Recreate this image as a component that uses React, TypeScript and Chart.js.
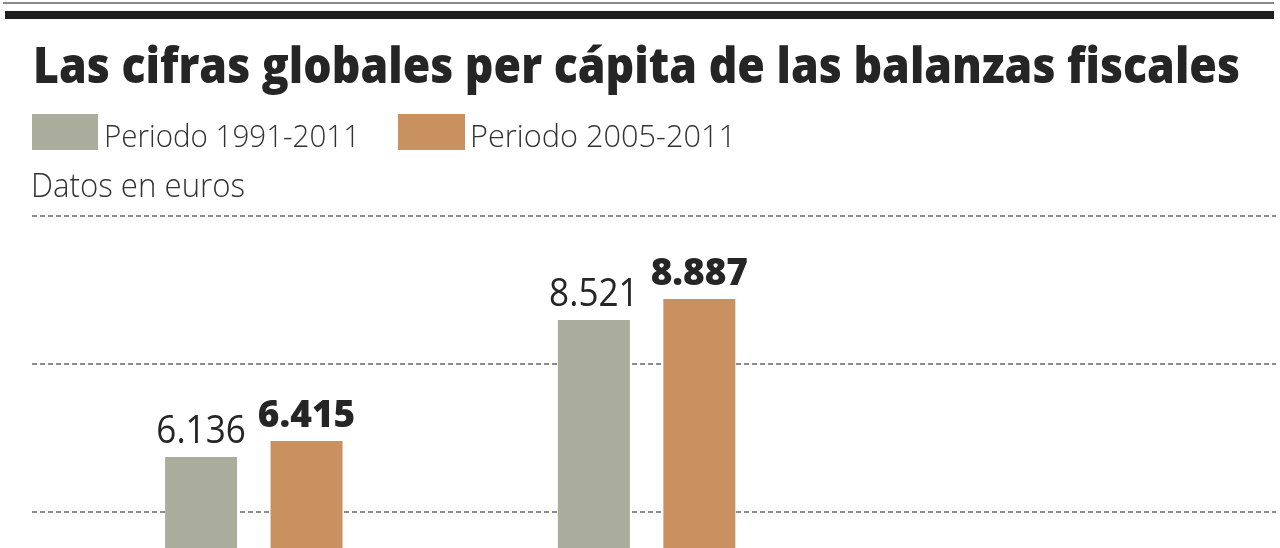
import React, { useEffect, useLayoutEffect, useRef } from "react";
import { Chart, registerables } from "chart.js";
Chart.register(...registerables);

// ---- data ----
const TITLE = "Las cifras globales per cápita de las balanzas fiscales";
const UNIT_LABEL = "Datos en euros";
const categories = ["Grupo 1", "Grupo 2"];
const seriesNames = ["Periodo 1991-2011", "Periodo 2005-2011"];
const series1991 = [6136, 8521];
const series2005 = [6415, 8887];
const gridTicks = [5178, 7755, 10332];
const yMin = 4552;
const yMax = 10332;

// ---- styles ----
const COLORS = ["#aaad9c", "#c8915f"];
const TEXT = "#252525";

const fmt = (v: number) => String(v).replace(/\B(?=(\d{3})+(?!\d))/g, ".");

function FitText(props: { x: number; baseline: number; width: number; style: any; children: any }) {
  const box = useRef<HTMLDivElement>(null);
  const txt = useRef<HTMLSpanElement>(null);
  const mark = useRef<HTMLSpanElement>(null);
  useLayoutEffect(() => {
    const b = box.current!, t = txt.current!, m = mark.current!;
    b.style.transform = "none";
    b.style.top = "0px";
    const bRect = b.getBoundingClientRect();
    const tRect = t.getBoundingClientRect();
    const mRect = m.getBoundingClientRect();
    const s = props.width / tRect.width;
    b.style.top = props.baseline - (mRect.bottom - bRect.top) + "px";
    b.style.transform = `scaleX(${s})`;
  }, []);
  return (
    <div
      ref={box}
      style={{
        position: "absolute",
        left: props.x,
        top: 0,
        whiteSpace: "nowrap",
        transformOrigin: "0 0",
        ...props.style,
      }}
    >
      <span ref={txt}>{props.children}</span>
      <span ref={mark} style={{ display: "inline-block", width: 0, height: 0 }} />
    </div>
  );
}

const gridPlugin = {
  id: "fullGrid",
  beforeDatasetsDraw(chart: any) {
    const ctx = chart.ctx;
    const y = chart.scales.y;
    ctx.save();
    ctx.strokeStyle = "#8c8c8c";
    ctx.lineWidth = 2;
    ctx.setLineDash([5, 3]);
    y.ticks.forEach((t: any) => {
      const py = Math.round(y.getPixelForValue(t.value));
      ctx.beginPath();
      ctx.moveTo(32, py);
      ctx.lineTo(1276, py);
      ctx.stroke();
    });
    ctx.restore();
  },
};

const labelPlugin = {
  id: "valueLabels",
  afterDatasetsDraw(chart: any) {
    const ctx = chart.ctx;
    chart.data.datasets.forEach((ds: any, di: number) => {
      const meta = chart.getDatasetMeta(di);
      meta.data.forEach((el: any, i: number) => {
        const bold = di === 1;
        ctx.save();
        ctx.font = bold ? '800 37px "Open Sans"' : '400 39px "Open Sans"';
        ctx.fillStyle = TEXT;
        ctx.textAlign = "center";
        ctx.textBaseline = "alphabetic";
        ctx.translate(el.x, el.y - 14);
        ctx.scale(bold ? 1 : 0.9, 1);
        ctx.fillText(fmt(ds.data[i]), 0, 0);
        ctx.restore();
      });
    });
  },
};

export default function App() {
  const canvasRef = useRef<HTMLCanvasElement>(null);

  useEffect(() => {
    const chart = new Chart(canvasRef.current!, {
      type: "bar",
      data: {
        labels: categories,
        datasets: [
          { label: seriesNames[0], data: series1991, backgroundColor: COLORS[0], borderWidth: 0 },
          { label: seriesNames[1], data: series2005, backgroundColor: COLORS[1], borderWidth: 0 },
        ],
      },
      options: {
        animation: false,
        responsive: false,
        maintainAspectRatio: false,
        layout: { padding: { top: 216, left: 57.4, right: 437, bottom: 0 } },
        plugins: {
          legend: { display: false },
          title: { display: false },
          tooltip: { enabled: false },
        },
        datasets: { bar: { categoryPercentage: 0.537, barPercentage: 0.6825 } },
        scales: {
          x: { display: false, offset: true },
          y: {
            display: false,
            min: yMin,
            max: yMax,
            afterBuildTicks: (s: any) => {
              s.ticks = gridTicks.map((v) => ({ value: v }));
            },
          },
        },
      } as any,
      plugins: [gridPlugin, labelPlugin],
    });
    return () => chart.destroy();
  }, []);

  return (
    <div
      style={{
        position: "absolute",
        left: 0,
        top: 0,
        width: 1280,
        height: 548,
        overflow: "hidden",
        background: "#fff",
        fontFamily: '"Open Sans", sans-serif',
      }}
    >
      <canvas ref={canvasRef} width={1280} height={548} style={{ position: "absolute", left: 0, top: 0, width: 1280, height: 548 }} />
      <div style={{ position: "absolute", left: 3, top: 2, width: 1271, height: 2, background: "#8a8a8a" }} />
      <div style={{ position: "absolute", left: 5, top: 11, width: 1269, height: 8, background: "#1f1f1f" }} />
      <FitText x={33} baseline={83} width={1207} style={{ fontSize: 49, fontWeight: 800, color: TEXT }}>
        {TITLE}
      </FitText>
      <div style={{ position: "absolute", left: 32, top: 114, width: 66, height: 36, background: COLORS[0] }} />
      <FitText x={104} baseline={147} width={256} style={{ fontSize: 31, fontWeight: 300, color: "#333" }}>
        {seriesNames[0]}
      </FitText>
      <div style={{ position: "absolute", left: 398, top: 114, width: 67, height: 36, background: COLORS[1] }} />
      <FitText x={470} baseline={147} width={266} style={{ fontSize: 31, fontWeight: 300, color: "#333" }}>
        {seriesNames[1]}
      </FitText>
      <FitText x={31} baseline={197} width={214} style={{ fontSize: 33, fontWeight: 300, color: "#333" }}>
        {UNIT_LABEL}
      </FitText>
    </div>
  );
}
